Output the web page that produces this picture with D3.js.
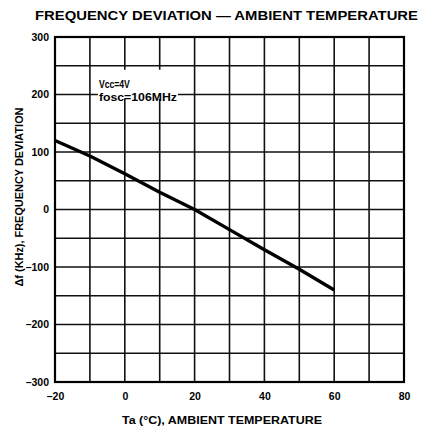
<!DOCTYPE html>
<html>
<head>
<meta charset="utf-8">
<script src="https://cdn.jsdelivr.net/npm/d3@7"></script>
<style>
  body { margin: 0; background: #fff; }
  text { font-family: "Liberation Sans", Arial, sans-serif; font-weight: bold; fill: #000; }
</style>
</head>
<body>
<div id="chart"></div>
<script>
// data
var temps = [-20, -10, 0, 10, 20, 30, 40, 50, 60];
var deviation = [120, 93, 62, 30, 0, -35, -70, -104, -140];
var xTicks = [-20, 0, 20, 40, 60, 80];
var yTicks = [-300, -200, -100, 0, 100, 200, 300];

var svgWidth = 429, svgHeight = 432;
var margin = { top: 37, right: 25, bottom: 50, left: 55 };
var width = 404 - margin.left;
var height = 382 - margin.top;

var svg = d3.select("#chart").append("svg")
  .attr("width", svgWidth)
  .attr("height", svgHeight);

var chartGroup = svg.append("g")
  .attr("transform", `translate(${margin.left}, ${margin.top})`);

var x = d3.scaleLinear().domain([-20, 80]).range([0, width]);
var y = d3.scaleLinear().domain([-300, 300]).range([height, 0]);

// grid
chartGroup.append("g")
  .selectAll("line")
  .data(d3.range(-10, 80, 10))
  .join("line")
  .attr("x1", d => x(d)).attr("x2", d => x(d))
  .attr("y1", 0).attr("y2", height)
  .attr("stroke", "#111").attr("stroke-width", 1.6);

chartGroup.append("g")
  .selectAll("line")
  .data(d3.range(-250, 300, 50))
  .join("line")
  .attr("y1", d => y(d)).attr("y2", d => y(d))
  .attr("x1", 0).attr("x2", width)
  .attr("stroke", "#111").attr("stroke-width", 1.6);

// axes (labels only)
var bottomAxis = d3.axisBottom(x).tickValues(xTicks).tickSize(0).tickPadding(11)
  .tickFormat(d => d < 0 ? "\u2013" + Math.abs(d) : d);
var leftAxis = d3.axisLeft(y).tickValues(yTicks).tickSize(0).tickPadding(6)
  .tickFormat(d => d < 0 ? "\u2013" + Math.abs(d) : d);

var xAxis = chartGroup.append("g")
  .attr("transform", `translate(0, ${height})`)
  .call(bottomAxis);
var yAxis = chartGroup.append("g").call(leftAxis);
[xAxis, yAxis].forEach(function(a) {
  a.select(".domain").remove();
  a.selectAll("text").style("font-size", "10.5px").style("font-weight", "bold")
    .style("font-family", "'Liberation Sans', Arial, sans-serif");
});

// frame
chartGroup.append("rect")
  .attr("width", width).attr("height", height)
  .attr("fill", "none").attr("stroke", "#000").attr("stroke-width", 2.2);

// condition label
var note = chartGroup.append("g");
note.append("rect")
  .attr("x", x(-10) + 8).attr("y", y(250) + 4)
  .attr("width", 80).attr("height", 29)
  .attr("fill", "#fff");
note.append("text")
  .attr("x", x(-10) + 9).attr("y", y(212))
  .attr("textLength", 31).attr("lengthAdjust", "spacingAndGlyphs")
  .style("font-size", "10px")
  .text("Vcc=4V");
note.append("text")
  .attr("x", x(-10) + 9).attr("y", y(188))
  .attr("textLength", 78).attr("lengthAdjust", "spacingAndGlyphs")
  .style("font-size", "10px")
  .text("fosc=106MHz");

// curve
var line = d3.line()
  .x((d, i) => x(temps[i]))
  .y(d => y(d));

chartGroup.append("path")
  .datum(deviation)
  .attr("d", line)
  .attr("fill", "none")
  .attr("stroke", "#000")
  .attr("stroke-width", 3.4)
  .attr("stroke-linejoin", "round");

// titles
svg.append("text")
  .attr("x", 226.5).attr("y", 20)
  .attr("text-anchor", "middle")
  .attr("textLength", 383).attr("lengthAdjust", "spacingAndGlyphs")
  .style("font-size", "13.5px")
  .style("font-weight", "900")
  .text("FREQUENCY DEVIATION \u2014 AMBIENT TEMPERATURE");

svg.append("text")
  .attr("x", 222).attr("y", 424)
  .attr("text-anchor", "middle")
  .attr("textLength", 200).attr("lengthAdjust", "spacingAndGlyphs")
  .style("font-size", "10px")
  .text("Ta (\u00b0C), AMBIENT TEMPERATURE");

svg.append("text")
  .attr("transform", "translate(23, 197) rotate(-90)")
  .attr("text-anchor", "middle")
  .attr("textLength", 179).attr("lengthAdjust", "spacingAndGlyphs")
  .style("font-size", "10px")
  .text("\u0394f (KHz), FREQUENCY DEVIATION");
</script>
</body>
</html>
